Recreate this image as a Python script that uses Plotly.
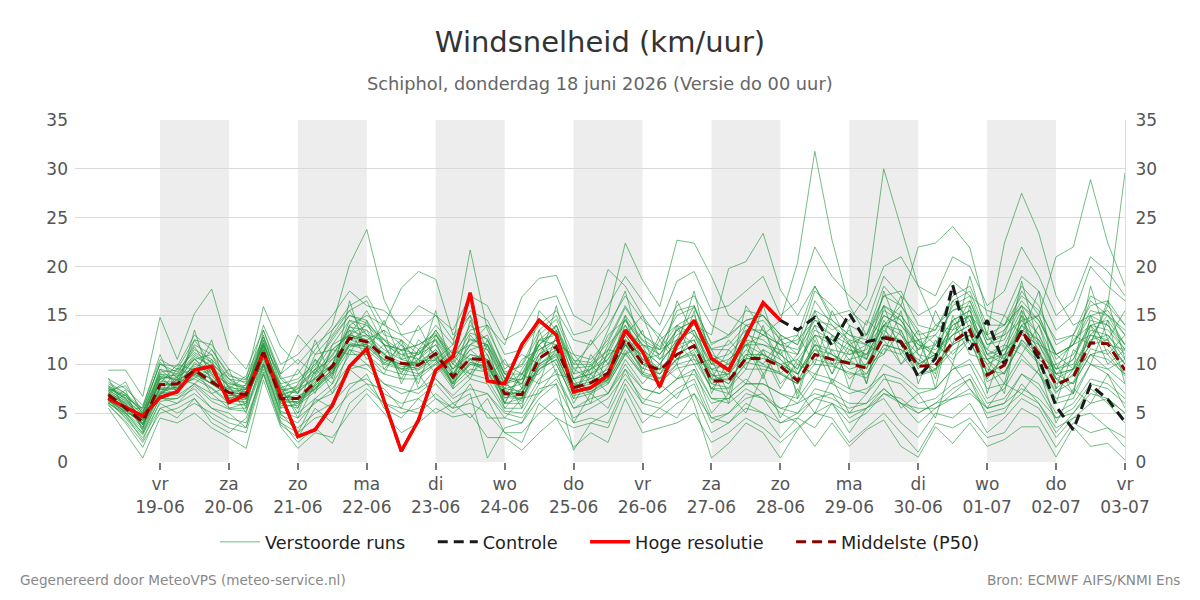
import pandas as pd
import plotly.graph_objects as go

times = pd.date_range("2026-06-18 06:00", periods=60, freq="6h")

hires = [6.5,5.6,4.7,6.6,7.2,9.4,9.8,6.1,6.9,11.2,
         7.0,2.6,3.3,5.8,9.8,11.6,6.3,1.1,4.3,9.4,
         10.8,17.3,8.3,8.0,12.0,14.5,13.0,7.2,7.6,8.9,
         13.5,11.3,7.7,12.0,14.5,10.6,9.4,12.8,16.3,14.5]

control = [6.5,5.6,4.7,6.6,7.2,9.4,9.8,6.1,6.9,11.2,
           7.0,2.6,3.3,5.8,9.8,11.6,6.3,1.1,4.3,9.4,
           10.8,17.3,8.3,8.0,12.0,14.5,13.0,7.2,7.6,8.9,
           13.5,11.3,7.7,12.0,14.5,10.6,9.4,12.8,16.3,14.5,
           13.5,14.8,11.9,15.2,12.3,12.7,12.3,8.7,10.6,18.1,
           11.5,14.5,10.0,13.4,10.6,5.7,3.3,7.9,6.4,4.1]

p50 = [6.9,5.5,4.1,7.9,8.0,9.4,8.2,7.1,6.9,11.2,
       6.5,6.5,8.1,9.8,12.7,12.3,10.8,10.1,9.9,11.1,
       8.7,10.6,10.4,7.0,6.9,10.6,11.8,7.6,8.1,9.1,
       12.6,10.1,9.4,11.0,11.9,8.3,8.3,10.6,10.6,9.8,
       8.3,11.0,10.5,10.1,9.6,12.8,12.3,9.8,9.9,12.3,
       13.5,8.9,9.9,13.4,11.1,7.9,8.7,12.2,12.1,9.4]

m01 = [7.2,6.0,3.5,8.5,7.5,10.2,9.0,6.5,6.0,11.8,6.0,5.5,8.8,11.0,13.5,12.8,11.0,9.5,10.5,12.0,9.0,11.5,10.0,6.5,7.5,11.0,12.5,8.0,7.5,9.8,13.0,10.5,9.0,12.0,12.5,8.0,9.0,11.5,10.0,9.0,8.0,12.0,11.0,9.5,10.0,13.5,12.0,9.0,10.5,13.0,14.0,9.0,10.5,14.0,11.5,7.5,9.0,13.0,12.5,10.0]
m02 = [9.4,9.4,6.7,14.8,10.5,15.2,17.7,11.5,9.5,13.5,9.0,13.0,11.0,13.0,15.5,16.5,13.0,12.5,11.0,13.5,10.5,14.0,12.5,9.0,10.0,13.5,15.0,11.0,10.5,12.5,16.0,13.0,11.5,15.5,16.0,12.0,13.0,14.5,15.0,12.5,11.0,16.5,14.0,12.0,13.0,18.0,16.0,13.5,12.0,16.0,17.0,12.5,13.0,17.5,15.0,11.0,12.0,16.5,15.0,13.0]
m03 = [5.5,3.0,0.4,4.5,4.0,5.0,3.5,2.5,1.4,8.4,3.6,1.4,3.0,2.5,5.0,7.0,5.0,3.0,4.0,5.5,4.6,5.0,2.5,2.5,1.2,3.0,4.5,1.5,3.0,2.0,6.5,3.0,3.5,4.0,5.0,2.0,3.0,4.5,3.5,2.0,3.5,5.0,4.5,2.0,3.5,5.0,3.0,1.0,4.0,3.5,4.5,2.5,3.0,5.5,4.5,1.5,4.0,3.0,3.5,1.5]
m04 = [8.0,7.0,5.0,9.5,9.0,12.0,11.0,8.5,7.5,12.5,8.5,9.0,11.5,14.0,20.2,23.8,16.6,13.0,11.5,14.0,12.0,21.7,13.5,10.0,9.0,12.0,14.0,9.5,8.5,11.0,14.5,12.0,10.5,13.5,14.5,10.5,11.0,13.0,12.5,11.0,9.5,14.0,13.0,11.0,11.5,15.5,14.5,11.5,12.0,14.5,15.5,11.0,12.0,15.5,13.0,9.0,10.5,14.5,14.0,11.5]
m05 = [6.8,5.0,4.5,7.0,8.5,9.0,8.0,7.5,6.5,11.0,7.0,6.5,8.0,10.0,14.0,15.0,14.0,17.8,19.5,18.7,13.0,15.0,11.5,8.0,8.5,12.5,13.0,9.0,9.5,11.0,12.0,11.0,8.5,10.5,11.5,9.0,8.0,10.0,11.5,10.5,9.0,11.5,10.0,10.5,9.0,12.0,11.5,10.5,9.5,12.0,13.0,9.5,9.0,12.5,11.0,8.5,8.0,11.0,11.5,9.0]
m06 = [7.5,6.5,4.8,8.0,8.0,10.0,9.5,7.0,7.5,12.0,7.5,7.0,9.0,11.5,13.0,14.0,12.0,11.5,12.0,13.0,11.0,13.5,14.0,12.0,16.9,18.8,19.1,15.0,14.0,19.7,18.0,15.0,12.5,14.0,13.0,10.0,9.5,12.0,11.0,10.0,10.5,13.0,12.5,11.5,10.5,14.0,13.5,10.0,11.0,14.0,15.0,10.5,11.0,14.5,12.0,8.5,9.5,13.5,13.0,10.5]
m07 = [6.5,5.5,3.8,7.5,7.0,9.5,8.5,6.5,7.0,11.5,6.5,6.0,7.5,9.0,12.0,12.0,10.5,10.0,9.5,11.0,8.5,10.5,11.0,7.5,8.0,12.0,13.5,10.0,12.0,15.0,22.4,18.6,15.9,22.7,22.4,19.0,15.0,14.0,13.0,12.0,12.5,14.5,13.0,12.0,11.0,14.0,15.0,12.5,11.0,13.5,14.5,11.5,10.5,13.5,12.5,9.5,10.0,12.5,13.0,11.0]
m08 = [7.0,5.8,4.2,8.2,8.2,9.8,8.8,7.2,6.8,11.0,6.8,7.5,8.5,10.5,12.5,13.0,11.5,10.5,10.0,11.5,9.5,11.0,10.5,8.0,7.0,10.0,11.5,8.5,9.0,10.5,13.5,12.0,11.0,13.0,14.0,13.0,19.8,20.5,23.4,17.6,15.0,18.0,14.5,13.0,12.0,15.0,14.0,12.0,11.5,13.0,14.0,10.5,11.5,13.0,12.0,9.0,9.5,12.0,12.5,10.0]
m09 = [6.2,5.2,4.0,7.0,7.8,8.5,7.5,6.0,6.5,10.5,5.5,6.0,7.5,9.5,12.0,11.5,10.0,9.5,9.0,10.5,8.0,10.0,9.5,6.0,6.5,9.5,11.0,7.0,7.5,8.5,12.0,10.0,9.0,11.0,12.0,9.5,10.0,12.0,13.0,14.5,20.4,31.8,22.7,16.0,13.0,16.0,14.5,12.0,11.0,14.0,15.0,11.0,10.0,14.0,12.5,9.0,9.5,13.0,12.0,10.0]
m10 = [7.8,6.8,5.2,9.0,8.8,11.0,9.8,8.0,7.8,12.2,7.2,7.8,9.5,12.0,14.5,14.0,12.5,11.0,10.5,12.5,9.5,12.0,11.5,8.5,8.0,11.5,12.5,8.5,9.0,10.0,14.0,11.5,10.0,12.5,13.5,10.0,10.5,12.0,12.0,11.5,11.0,15.0,13.5,14.5,17.0,30.0,24.1,18.0,14.0,15.5,16.0,12.0,12.5,16.0,14.0,10.0,11.0,14.0,14.5,12.0]
m11 = [6.6,5.4,3.9,7.8,8.0,9.2,8.0,7.0,6.5,11.2,6.0,6.2,7.8,9.5,12.5,12.0,10.5,10.0,10.0,11.0,8.5,10.5,10.0,7.0,7.0,10.5,11.5,7.5,8.0,9.0,12.5,10.0,9.5,11.0,12.0,8.5,8.5,10.5,11.0,10.0,9.0,12.0,11.5,11.0,12.0,14.0,16.0,22.0,22.4,24.1,21.9,15.0,14.0,16.0,14.5,11.0,12.0,15.0,15.5,13.0]
m12 = [7.4,6.2,4.6,8.8,8.4,10.5,9.2,7.8,7.0,11.8,7.0,7.2,8.6,10.0,13.0,12.5,11.0,10.2,10.2,11.5,9.0,11.0,10.5,7.5,7.2,11.0,12.0,8.0,8.5,9.5,13.0,10.5,9.5,11.5,12.5,8.8,9.0,11.0,11.0,10.0,9.0,11.5,11.0,10.0,10.0,13.0,12.5,10.0,11.0,13.0,15.0,13.0,22.4,27.5,23.4,17.0,14.0,15.0,14.0,12.0]
m13 = [6.0,4.8,3.0,6.5,6.5,8.0,7.0,5.5,5.5,10.0,5.0,5.0,6.5,8.0,11.0,11.0,9.0,8.5,8.5,10.0,7.5,9.0,8.5,5.5,5.5,8.5,10.0,6.5,7.0,8.0,11.0,9.0,8.0,10.0,10.5,7.5,7.5,9.5,9.5,9.0,8.0,10.5,10.0,9.0,9.0,12.0,11.5,9.0,9.5,12.0,13.0,10.0,11.0,14.0,15.0,21.0,22.0,28.9,22.4,18.0]
m14 = [7.0,6.0,4.4,8.0,7.8,9.6,8.4,7.0,7.0,11.3,6.6,6.6,8.2,9.8,12.8,12.4,10.8,10.0,9.8,11.2,8.8,10.6,10.4,7.2,7.0,10.6,11.8,7.8,8.2,9.2,12.6,10.2,9.4,11.0,12.0,8.4,8.4,10.6,10.6,9.8,8.4,11.0,10.5,10.2,9.6,12.8,12.2,9.8,10.0,12.2,13.4,9.0,10.0,13.4,11.2,8.0,8.8,12.2,16.0,29.6]
m15 = [6.4,4.5,2.5,5.5,6.0,7.0,5.5,4.5,4.0,9.5,4.5,3.5,5.0,6.0,8.0,8.5,7.0,6.0,6.5,8.0,6.0,7.0,0.4,3.5,4.0,6.5,8.0,1.2,4.0,5.0,8.5,6.0,5.5,7.0,8.0,4.0,5.0,6.5,7.0,5.5,5.0,7.5,7.0,6.0,6.0,8.5,8.0,6.0,6.5,8.0,9.0,6.0,6.5,9.0,8.0,5.0,6.0,8.5,8.0,6.5]
m16 = [6.0,5.0,3.6,7.0,7.2,8.8,7.6,6.2,6.2,10.8,5.8,5.8,7.2,8.8,11.5,11.0,9.5,9.0,8.8,10.2,7.8,9.5,9.2,6.0,6.0,9.5,10.5,6.8,7.2,8.2,11.5,9.0,8.5,10.0,6.0,0.4,1.9,4.0,3.0,0.4,3.3,5.0,6.0,4.0,5.0,7.0,6.5,5.0,6.0,7.5,8.5,5.5,6.0,9.0,7.5,4.5,5.5,8.0,7.5,6.0]
m17 = [6.3,5.3,3.8,7.5,7.4,9.0,8.0,6.8,6.6,11.0,6.2,6.2,7.6,9.2,12.0,11.8,10.2,9.6,9.4,10.6,8.2,10.0,9.8,6.6,6.5,10.0,11.0,7.2,7.6,8.6,12.0,9.6,9.0,10.5,11.0,7.5,7.0,8.5,7.0,5.0,4.0,1.6,4.0,1.6,3.3,4.3,1.6,0.5,3.6,1.9,4.0,1.6,2.3,3.6,3.6,0.5,3.6,1.6,1.9,0.2]
m18 = [8.5,7.5,5.8,10.5,9.5,12.5,12.0,9.5,8.5,15.9,11.8,10.0,12.0,13.5,16.0,17.0,14.0,13.0,13.5,15.0,12.5,15.5,14.5,11.0,11.5,14.0,15.5,12.5,12.0,14.0,17.0,14.5,13.0,16.0,17.0,14.0,13.0,15.5,15.0,13.0,12.0,17.5,16.0,14.0,13.0,17.0,17.5,14.0,13.5,17.0,18.0,14.0,14.0,18.0,16.0,12.0,13.0,17.0,16.0,14.0]
m19 = [5.8,4.2,2.0,5.0,5.5,6.5,4.5,3.5,3.0,9.0,4.0,3.0,4.5,5.0,7.0,8.0,6.0,5.0,5.5,7.0,5.5,6.0,5.0,3.0,3.0,5.0,6.5,4.0,4.5,4.0,8.0,5.0,4.5,6.0,7.0,4.5,4.0,5.5,5.0,4.0,4.5,6.5,6.0,5.0,5.5,7.0,6.0,5.5,5.5,6.5,7.5,5.0,5.5,7.0,6.0,3.5,4.5,6.0,6.5,5.0]
m20 = [7.6,6.6,5.5,10.0,9.2,11.5,10.5,8.5,8.2,12.8,8.0,8.5,10.0,12.5,15.0,14.5,12.0,11.5,11.0,13.0,10.5,12.5,12.0,9.0,9.0,12.5,14.0,10.0,10.0,11.5,15.0,12.5,11.5,14.0,15.0,11.5,11.5,13.5,13.5,12.0,11.5,14.5,14.0,12.5,12.0,16.0,15.0,12.5,13.0,15.5,16.5,12.5,13.5,16.5,14.5,11.0,12.0,15.5,15.0,13.5]
m21 = [6.7,5.7,4.3,6.8,8.5,8.0,9.5,6.0,7.5,10.0,7.5,5.0,9.5,8.0,13.5,10.5,12.0,8.5,11.5,9.0,10.5,8.5,12.0,6.0,9.0,8.0,13.0,7.0,10.0,8.0,11.0,12.0,8.0,12.5,10.0,10.5,7.0,12.5,9.0,11.5,7.0,13.0,9.0,12.0,8.0,14.0,10.0,12.5,8.5,14.5,11.0,10.5,8.0,15.0,9.5,10.0,7.0,14.0,10.0,11.5]
m22 = [6.1,4.6,2.8,6.0,5.0,6.0,5.0,4.0,3.5,9.2,4.2,2.0,3.5,1.9,6.0,7.5,6.0,5.5,5.0,6.5,5.0,6.5,7.0,5.0,4.5,7.0,8.5,5.5,6.0,7.0,9.5,7.5,7.0,8.5,9.0,6.0,6.5,8.0,8.0,7.0,6.5,9.0,8.5,7.5,7.0,10.0,9.0,7.5,7.5,9.5,10.5,7.5,8.0,11.0,9.0,6.5,7.0,10.0,9.5,8.0]
m23 = [7.3,6.3,4.5,8.6,8.6,10.8,9.8,7.6,7.4,12.2,7.4,7.6,9.2,10.8,13.8,13.5,12.0,11.0,11.2,12.6,10.0,12.6,12.0,8.6,8.4,12.0,13.4,9.6,9.8,11.4,14.6,12.4,11.0,13.6,14.4,11.6,12.0,14.0,14.5,12.5,13.0,18.0,15.0,15.5,14.0,19.0,17.0,15.0,16.0,18.5,17.0,15.5,15.0,19.0,17.5,13.5,15.0,20.0,18.0,16.5]
m24 = [6.5,5.6,4.0,7.4,7.6,9.2,8.0,6.8,6.8,11.0,6.4,6.4,7.8,9.4,12.2,11.8,10.4,9.8,9.6,10.8,8.4,10.2,9.8,6.8,6.6,9.8,10.8,7.2,7.6,8.4,11.2,8.8,8.2,9.6,10.0,6.5,6.0,7.5,6.5,5.5,6.0,7.0,6.5,5.5,6.0,7.5,6.0,5.0,6.0,6.5,7.0,5.5,6.0,7.5,6.5,4.5,5.0,7.0,6.5,5.0]
m25 = [7.8,6.5,4.2,9.5,8.0,12.5,10.0,8.5,7.0,12.0,5.5,8.0,10.5,9.0,14.0,12.0,13.5,8.0,11.5,12.5,7.5,13.0,11.0,6.0,9.5,12.0,10.0,6.5,11.0,8.5,15.0,9.0,12.5,10.0,15.5,7.0,10.5,12.0,8.5,13.0,6.5,12.5,9.0,14.0,8.0,16.0,11.0,13.5,7.5,15.0,12.0,10.0,7.0,15.5,9.5,6.0,11.5,10.0,14.5,8.0]
m26 = [6.2,7.4,3.1,7.0,9.6,8.8,12.5,6.2,8.0,10.8,7.8,4.5,8.0,11.5,11.0,14.5,9.5,11.5,8.0,13.0,10.0,9.0,12.5,8.5,5.5,13.5,9.0,8.5,6.0,11.5,11.0,13.5,7.5,14.0,10.5,9.5,6.0,13.5,11.0,7.5,10.5,8.5,13.0,7.5,12.0,11.0,15.5,8.0,12.5,10.0,16.0,7.0,12.0,11.0,14.0,8.5,7.0,15.0,11.0,13.0]
m27 = [8.6,5.2,5.6,11.0,7.0,13.5,8.0,9.5,5.5,13.5,8.5,7.0,12.5,8.5,16.5,11.0,14.5,10.5,14.0,10.5,12.0,15.0,8.5,10.5,7.5,15.5,13.5,7.0,9.5,13.5,17.5,11.0,9.5,16.5,13.0,11.5,8.5,16.0,13.5,10.5,8.5,15.5,11.0,10.0,14.5,13.0,17.0,11.0,9.0,18.0,13.5,11.5,15.0,13.0,17.5,7.5,13.0,12.0,16.5,10.5]
m28 = [5.9,4.0,1.5,5.5,4.5,6.5,4.0,3.0,4.5,9.0,3.8,2.5,5.5,4.0,7.5,9.0,5.5,4.5,6.5,5.0,6.0,4.5,6.5,3.0,2.0,6.0,4.5,3.5,4.0,3.5,7.5,4.0,5.5,4.5,7.0,3.0,4.0,6.0,5.0,2.5,4.5,3.5,6.0,3.0,5.5,6.5,4.0,2.5,5.0,4.5,6.0,3.0,4.5,6.5,5.5,2.5,4.5,5.0,3.5,2.5]
m29 = [7.0,8.2,4.8,8.5,9.0,10.5,11.0,7.5,8.8,12.8,9.0,10.5,9.0,13.5,15.5,13.0,11.0,12.5,10.0,15.5,9.0,12.0,14.0,9.5,11.0,10.0,16.0,9.0,12.5,10.0,13.0,15.0,10.5,12.0,17.5,10.0,12.5,10.5,16.0,11.0,13.0,10.0,15.5,12.0,10.5,17.5,13.0,10.0,15.5,12.0,19.0,13.0,10.5,18.5,12.0,11.0,9.5,18.0,12.5,15.5]
m30 = [6.4,4.8,2.2,6.2,6.5,7.5,5.5,5.0,3.5,10.0,5.0,3.0,6.5,5.5,9.5,8.0,7.5,5.5,9.0,6.5,5.5,8.0,4.5,4.5,6.5,7.0,9.5,4.0,7.0,5.5,9.5,6.0,8.0,6.5,9.5,5.0,7.0,5.0,9.0,4.5,7.5,5.0,8.5,5.0,7.0,9.0,5.5,7.0,4.5,10.0,7.5,5.5,8.0,7.0,9.5,4.0,7.5,6.0,9.0,5.5]
m31 = [7.5,6.8,5.0,10.2,8.6,11.8,9.0,8.0,7.6,11.5,6.8,9.5,7.0,12.0,13.0,15.5,12.0,9.0,12.5,11.0,8.0,14.5,10.0,7.5,10.5,11.5,12.5,10.5,8.0,12.0,14.0,10.5,11.0,13.5,12.0,8.5,11.5,9.5,14.0,9.0,11.0,14.0,10.0,12.5,9.5,14.5,12.0,12.5,10.5,16.5,14.5,9.0,13.5,16.0,11.0,9.5,12.5,14.0,12.0,11.5]
m32 = [6.9,5.9,3.4,8.8,7.2,9.0,10.5,5.5,6.0,11.5,6.2,7.5,9.5,10.5,12.5,13.5,10.0,12.0,9.0,10.0,11.5,10.5,9.0,7.0,8.5,9.0,11.5,8.0,7.0,9.0,12.0,9.5,13.0,10.5,13.0,9.0,8.0,11.0,10.0,12.5,9.0,12.0,8.0,11.5,11.0,12.5,10.0,11.5,13.0,11.0,13.0,10.5,9.0,12.5,10.5,9.0,8.0,11.0,10.5,9.0]
m33 = [8.2,7.0,5.4,10.0,9.8,13.0,11.5,9.0,8.0,14.0,10.0,11.0,13.0,15.0,17.5,16.0,15.5,14.0,16.0,15.0,13.5,17.0,16.0,12.5,13.5,16.5,17.0,13.0,13.5,16.0,19.0,16.5,14.0,18.5,19.5,15.5,16.0,17.5,19.0,15.0,16.5,22.0,19.0,17.0,15.5,20.0,21.0,18.0,17.0,21.0,20.0,16.0,17.5,22.0,19.0,15.0,16.5,21.0,19.5,17.0]
m34 = [6.6,5.0,3.3,7.2,6.8,8.0,6.5,6.0,5.8,10.2,5.2,4.5,6.0,7.5,10.0,9.5,8.0,7.0,7.5,8.5,6.5,7.5,7.0,4.5,4.0,7.5,8.0,4.5,5.5,6.5,9.0,6.5,6.0,7.5,8.5,4.5,5.0,7.0,6.5,4.0,5.0,6.5,7.0,4.5,5.5,7.5,6.0,4.0,5.5,7.0,8.5,4.5,5.0,8.0,6.0,3.0,5.0,7.5,6.0,4.0]
m35 = [7.1,6.1,4.6,9.0,8.3,10.6,8.5,7.4,7.2,12.5,7.0,6.0,8.5,10.0,14.5,13.0,12.5,10.5,11.0,12.0,9.5,11.5,12.0,8.0,9.0,11.0,14.0,8.5,9.5,10.5,13.5,11.5,10.0,12.5,13.5,9.5,9.0,12.5,12.0,11.0,9.5,13.5,12.5,10.5,11.0,14.0,13.0,11.0,10.5,14.5,15.5,11.0,11.5,15.0,13.0,9.5,10.5,14.0,13.5,11.5]
m36 = [6.0,6.9,3.8,6.8,8.8,9.6,7.0,7.8,5.0,11.0,8.0,5.5,10.5,7.0,11.5,10.0,9.0,12.5,7.5,9.5,11.0,9.0,10.5,5.5,7.5,9.5,10.5,6.0,9.0,7.0,10.5,8.0,10.0,8.5,11.0,7.5,9.5,8.0,11.5,8.0,10.0,9.0,11.5,8.5,10.0,11.0,13.5,9.5,12.0,10.5,12.5,8.5,11.0,12.0,10.0,7.0,9.5,11.0,9.5,10.5]
m37 = [7.7,6.4,4.9,9.2,9.4,11.2,10.2,8.2,7.4,13.0,7.6,8.2,9.8,12.8,15.0,14.2,12.6,11.4,12.0,13.2,10.2,13.2,12.6,9.2,9.8,13.0,14.6,10.4,10.2,12.2,15.8,13.0,11.8,15.0,15.8,12.2,12.8,14.5,15.0,13.0,12.0,15.5,14.5,13.0,12.5,17.0,16.0,13.0,13.5,16.5,17.5,13.0,14.0,17.0,15.5,12.5,13.0,16.0,16.5,14.0]
m38 = [6.3,5.1,2.9,6.6,6.0,7.8,6.2,5.4,5.2,9.8,4.8,4.0,6.2,7.0,9.5,10.0,8.0,7.5,7.0,8.5,6.8,8.5,8.0,5.2,5.0,8.0,9.0,5.5,6.5,7.0,10.0,7.5,7.0,8.5,9.5,6.5,6.5,8.0,8.0,7.0,6.0,8.5,8.0,7.0,7.5,9.0,8.5,7.0,7.5,9.5,10.0,6.5,7.5,10.5,9.0,6.0,6.5,10.0,9.0,7.0]
m39 = [7.3,7.8,5.2,8.0,10.0,9.4,11.5,8.8,8.4,12.0,8.8,7.0,11.0,11.5,13.0,12.5,13.5,12.0,10.5,13.5,11.0,12.0,13.0,9.0,8.0,12.5,12.0,11.0,9.0,13.0,14.5,12.0,11.5,12.5,16.0,11.0,10.0,14.0,13.0,12.0,10.0,13.0,12.0,13.5,10.5,15.0,14.0,11.5,14.0,13.5,16.5,12.0,13.0,14.5,15.0,10.5,12.0,13.0,15.0,12.0]
m40 = [6.7,5.6,4.4,7.6,7.6,8.6,9.6,6.6,6.4,10.6,6.6,6.8,7.4,9.2,11.8,12.0,11.2,9.2,10.4,10.4,8.0,10.2,9.6,7.4,6.2,10.0,11.2,7.8,7.2,8.4,12.2,9.2,8.6,10.6,11.2,8.0,7.6,10.2,9.8,9.2,8.0,10.0,9.8,9.2,8.6,11.6,11.0,8.8,9.4,11.4,12.5,8.2,9.2,12.2,10.2,7.2,8.2,11.6,11.0,8.8]

members = [m01, m02, m03, m04, m05, m06, m07, m08, m09, m10,
           m11, m12, m13, m14, m15, m16, m17, m18, m19, m20,
           m21, m22, m23, m24, m25, m26, m27, m28, m29, m30,
           m31, m32, m33, m34, m35, m36, m37, m38, m39, m40]

day_ticks = pd.date_range("2026-06-19", "2026-07-03", freq="D")
day_names = ["vr", "za", "zo", "ma", "di", "wo", "do"]
tick_text = [f"{day_names[i % 7]}<br>{d.strftime('%d-%m')}" for i, d in enumerate(day_ticks)]
shade_starts = ["2026-06-19", "2026-06-21", "2026-06-23", "2026-06-25",
                "2026-06-27", "2026-06-29", "2026-07-01"]

FONT = "DejaVu Sans"
green = "rgba(30,148,58,0.62)"
PAD = "\u00a0\u00a0\u00a0\u00a0"

fig = go.Figure()
for k, m in enumerate(members):
    fig.add_trace(go.Scatter(
        x=times, y=m, mode="lines", name="Verstoorde runs" + PAD,
        legendgroup="runs", showlegend=(k == 0),
        line=dict(color=green, width=1), hoverinfo="skip"))

fig.add_trace(go.Scatter(x=times, y=control, mode="lines", name="Controle" + PAD,
                         line=dict(color="#1a1a1a", width=3, dash="10px,6px")))
fig.add_trace(go.Scatter(x=times[:len(hires)], y=hires, mode="lines", name="Hoge resolutie" + PAD,
                         line=dict(color="#ff0000", width=3.5)))
fig.add_trace(go.Scatter(x=times, y=p50, mode="lines", name="Middelste (P50)",
                         line=dict(color="#8b0000", width=3, dash="10px,6px")))
fig.add_trace(go.Scatter(x=[times[0]], y=[None], yaxis="y2", showlegend=False,
                         hoverinfo="skip", mode="lines"))

shapes = []
for s in shade_starts:
    e = pd.Timestamp(s) + pd.Timedelta(days=1)
    shapes.append(dict(type="rect", xref="x", yref="paper", x0=s, x1=e, y0=0, y1=1,
                       fillcolor="#ededed", line=dict(width=0), layer="below"))

fig.update_layout(
    width=1200, height=600,
    paper_bgcolor="white", plot_bgcolor="white",
    margin=dict(l=75, r=75, t=120, b=138),
    font=dict(family=FONT, size=17, color="#555"),
    title=dict(text="Windsnelheid (km/uur)", x=0.5, xanchor="center", y=0.93, yanchor="middle",
               font=dict(family=FONT, size=29, color="#333")),
    shapes=shapes,
    showlegend=True,
    legend=dict(orientation="h", x=0.5, xanchor="center", y=-0.235, yanchor="middle",
                font=dict(family=FONT, size=17.7, color="#222"), itemwidth=40,
                traceorder="normal"),
    xaxis=dict(type="date", range=["2026-06-17 18:24", "2026-07-03 00:00"],
               tickvals=day_ticks, ticktext=tick_text, showgrid=False,
               ticks="outside", ticklen=7, tickwidth=2, tickcolor="#777",
               showline=False, zeroline=False,
               tickfont=dict(family=FONT, size=17, color="#555")),
    yaxis=dict(range=[0, 35], dtick=5, showgrid=True, gridcolor="#d9d9d9", gridwidth=1,
               zeroline=False, showline=False, ticks="", ticklabelstandoff=6,
               tickfont=dict(family=FONT, size=17, color="#555")),
    yaxis2=dict(range=[0, 35], dtick=5, overlaying="y", side="right", showgrid=False,
                zeroline=False, showline=True, linecolor="#dddddd", linewidth=1,
                ticks="", ticklabelstandoff=6,
                tickfont=dict(family=FONT, size=17, color="#555")),
    annotations=[
        dict(text="Schiphol, donderdag 18 juni 2026 (Versie do 00 uur)", xref="paper", yref="paper",
             x=0.5, y=(600 - 84 - 138) / 342, xanchor="center", yanchor="middle", showarrow=False,
             font=dict(family=FONT, size=17.8, color="#666")),
        dict(text="Gegenereerd door MeteoVPS (meteo-service.nl)", xref="paper", yref="paper",
             x=-57 / 1050, y=(600 - 580 - 138) / 342, xanchor="left", yanchor="middle",
             showarrow=False, font=dict(family=FONT, size=13.6, color="#888")),
        dict(text="Bron: ECMWF AIFS/KNMI Ens", xref="paper", yref="paper",
             x=1 + 57 / 1050, y=(600 - 580 - 138) / 342, xanchor="right", yanchor="middle",
             showarrow=False, font=dict(family=FONT, size=13.6, color="#888")),
    ],
)

fig.write_html("out.html")
